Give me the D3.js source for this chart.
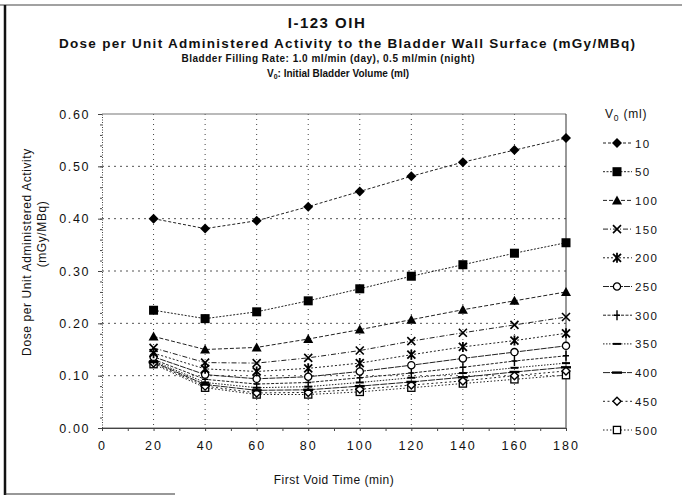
<!DOCTYPE html>
<html>
<head>
<meta charset="utf-8">
<script src="https://cdn.jsdelivr.net/npm/d3@7"></script>
<style>
  html, body { margin: 0; padding: 0; background: #fff; }
  svg { display: block; font-family: "Liberation Sans", Arial, Helvetica, sans-serif; }
</style>
</head>
<body>
<svg id="chart" width="682" height="495"></svg>
<script>
// First void time (min) on the x axis
const firstVoidTimes = [20, 40, 60, 80, 100, 120, 140, 160, 180];

// Initial bladder volumes V0 (ml), one curve each
const initialVolumes = ["10", "50", "100", "150", "200", "250", "300", "350", "400", "450", "500"];

// Dose per unit administered activity (mGy/MBq) for each V0
const doseV10  = [0.400, 0.381, 0.396, 0.423, 0.452, 0.481, 0.508, 0.531, 0.554];
const doseV50  = [0.225, 0.209, 0.222, 0.243, 0.266, 0.290, 0.312, 0.334, 0.354];
const doseV100 = [0.175, 0.150, 0.154, 0.170, 0.188, 0.207, 0.226, 0.243, 0.260];
const doseV150 = [0.153, 0.125, 0.124, 0.134, 0.148, 0.166, 0.182, 0.197, 0.212];
const doseV200 = [0.143, 0.113, 0.108, 0.114, 0.124, 0.140, 0.155, 0.167, 0.181];
const doseV250 = [0.136, 0.102, 0.094, 0.098, 0.108, 0.120, 0.133, 0.145, 0.157];
const doseV300 = [0.131, 0.093, 0.084, 0.087, 0.096, 0.105, 0.116, 0.128, 0.138];
const doseV350 = [0.128, 0.087, 0.077, 0.079, 0.087, 0.096, 0.105, 0.115, 0.124];
const doseV400 = [0.126, 0.083, 0.072, 0.073, 0.080, 0.088, 0.097, 0.107, 0.116];
const doseV450 = [0.124, 0.080, 0.067, 0.068, 0.074, 0.082, 0.090, 0.100, 0.109];
const doseV500 = [0.122, 0.077, 0.064, 0.064, 0.069, 0.077, 0.085, 0.093, 0.101];

// Axis tick values
const xTickValues = [0, 20, 40, 60, 80, 100, 120, 140, 160, 180];
const yTickValues = [0.00, 0.10, 0.20, 0.30, 0.40, 0.50, 0.60];

const doseSeries = [doseV10, doseV50, doseV100, doseV150, doseV200, doseV250,
                    doseV300, doseV350, doseV400, doseV450, doseV500];

// Marker shapes and line dash patterns, one per curve
const markerKinds = ["diamond", "square", "triangle", "times", "star", "circle",
                     "plus", "dashShort", "dashLong", "diamondOpen", "squareOpen"];
const lineDashes = ["3,2", "2,1.5", "4,2", "5,2,1,2", "2,2", "6,1",
                    "3,1.5", "1.5,1.5", "7,1", "2,2.5", "1.5,2"];

const svg = d3.select("#chart");
const plot = { left: 102, right: 566, top: 114, bottom: 428 };

const x = d3.scaleLinear().domain([0, 180]).range([plot.left, plot.right]);
const y = d3.scaleLinear().domain([0, 0.6]).range([plot.bottom, plot.top]);

// Outer frame of the figure (top, left and a stub at the bottom)
svg.append("line").attr("x1", 0).attr("x2", 682).attr("y1", 5).attr("y2", 5)
  .attr("stroke", "#444").attr("stroke-width", 1.2);
svg.append("line").attr("x1", 5).attr("x2", 5).attr("y1", 5).attr("y2", 495)
  .attr("stroke", "#111").attr("stroke-width", 2.5);
svg.append("line").attr("x1", 5).attr("x2", 175).attr("y1", 494).attr("y2", 494)
  .attr("stroke", "#333").attr("stroke-width", 1.2);

// Titles
const titles = svg.append("g").attr("fill", "#111").attr("text-anchor", "middle");
titles.append("text").attr("x", 327).attr("y", 28)
  .attr("font-size", 15).attr("font-weight", "bold").attr("letter-spacing", 1.5)
  .text("I-123 OIH");
titles.append("text").attr("x", 347).attr("y", 48)
  .attr("font-size", 13.5).attr("font-weight", "bold")
  .attr("textLength", 576).attr("lengthAdjust", "spacing")
  .text("Dose per Unit Administered Activity to the Bladder Wall Surface (mGy/MBq)");
titles.append("text").attr("x", 328).attr("y", 62)
  .attr("font-size", 10).attr("font-weight", "bold")
  .attr("textLength", 293).attr("lengthAdjust", "spacing")
  .text("Bladder Filling Rate: 1.0 ml/min (day), 0.5 ml/min (night)");
const sub = titles.append("text").attr("x", 338).attr("y", 77)
  .attr("font-size", 10).attr("font-weight", "bold");
sub.append("tspan").text("V");
sub.append("tspan").attr("font-size", 7).attr("dy", 2).text("0");
sub.append("tspan").attr("dy", -2).text(": Initial Bladder Volume (ml)");

// Grid lines
const grid = svg.append("g");
grid.selectAll(".hgrid").data(yTickValues.filter(v => v > 0 && v < 0.6)).join("line")
  .attr("x1", plot.left).attr("x2", plot.right)
  .attr("y1", d => y(d)).attr("y2", d => y(d))
  .attr("stroke", "#555").attr("stroke-width", 1).attr("stroke-dasharray", "2,4");
grid.selectAll(".vgrid").data(xTickValues.filter(v => v > 0 && v < 180)).join("line")
  .attr("x1", d => x(d)).attr("x2", d => x(d))
  .attr("y1", plot.top).attr("y2", plot.bottom)
  .attr("stroke", "#444").attr("stroke-width", 1).attr("stroke-dasharray", "1,4");

// Plot frame
svg.append("line").attr("x1", plot.left).attr("x2", plot.right)
  .attr("y1", plot.top).attr("y2", plot.top).attr("stroke", "#777").attr("stroke-width", 1.2);
svg.append("line").attr("x1", plot.right).attr("x2", plot.right)
  .attr("y1", plot.top).attr("y2", plot.bottom).attr("stroke", "#333").attr("stroke-width", 1);
svg.append("line").attr("x1", plot.left).attr("x2", plot.right)
  .attr("y1", plot.bottom).attr("y2", plot.bottom).attr("stroke", "#666").attr("stroke-width", 1);

// Axes
const yAxis = d3.axisLeft(y).tickValues(yTickValues).tickFormat(d3.format(".2f"))
  .tickSize(4).tickPadding(8);
const yAxisG = svg.append("g").attr("transform", `translate(${plot.left},0)`).call(yAxis);
const xAxis = d3.axisBottom(x).tickValues(xTickValues).tickFormat(d3.format("d"))
  .tickSize(3).tickPadding(10);
const xAxisG = svg.append("g").attr("transform", `translate(0,${plot.bottom})`).call(xAxis);

// Minor ticks
const yMinor = d3.axisLeft(y).tickValues(d3.range(0, 0.601, 0.02)).tickSize(2).tickFormat("");
svg.append("g").attr("transform", `translate(${plot.left},0)`).call(yMinor)
  .call(g => g.select(".domain").remove());
const xMinor = d3.axisBottom(x).tickValues(d3.range(10, 180, 20)).tickSize(3).tickFormat("");
svg.append("g").attr("transform", `translate(0,${plot.bottom})`).call(xMinor)
  .call(g => g.select(".domain").remove());

svg.selectAll(".domain").attr("stroke", "#444").attr("stroke-dasharray", null);
yAxisG.select(".domain").attr("stroke-dasharray", "1,1.5");
svg.selectAll(".tick line").attr("stroke", "#444");
svg.selectAll(".tick text").attr("fill", "#111")
  .attr("font-family", "'Liberation Sans', Arial, sans-serif");
yAxisG.selectAll(".tick text").attr("font-size", 12.5).attr("letter-spacing", 1.6);
xAxisG.selectAll(".tick text").attr("font-size", 12.5).attr("letter-spacing", 2);

// Axis titles
svg.append("text").attr("x", 334).attr("y", 484).attr("text-anchor", "middle")
  .attr("font-size", 12).attr("letter-spacing", 0.5).attr("fill", "#111")
  .text("First Void Time (min)");
svg.append("text").attr("transform", "translate(31,252) rotate(-90)")
  .attr("text-anchor", "middle").attr("font-size", 12).attr("letter-spacing", 0.6)
  .attr("fill", "#111").text("Dose per Unit Administered Activity");
svg.append("text").attr("transform", "translate(46,234) rotate(-90)")
  .attr("text-anchor", "middle").attr("font-size", 12).attr("letter-spacing", 0.6)
  .attr("fill", "#111").text("(mGy/MBq)");

// Marker drawing
function drawMarker(g, kind, cx, cy) {
  const s = g.append("g").attr("transform", `translate(${cx},${cy})`);
  switch (kind) {
    case "diamond":
      s.append("path").attr("d", "M0,-5L5,0L0,5L-5,0Z").attr("fill", "#000"); break;
    case "square":
      s.append("rect").attr("x", -4.5).attr("y", -4.5).attr("width", 9).attr("height", 9).attr("fill", "#000"); break;
    case "triangle":
      s.append("path").attr("d", "M0,-5L5,4L-5,4Z").attr("fill", "#000"); break;
    case "times":
      s.append("path").attr("d", "M-4,-4L4,4M-4,4L4,-4").attr("stroke", "#000").attr("stroke-width", 1.6); break;
    case "star":
      s.append("path").attr("d", "M-4,-4L4,4M-4,4L4,-4M0,-5L0,5").attr("stroke", "#000").attr("stroke-width", 1.8); break;
    case "circle":
      s.append("circle").attr("r", 3.6).attr("fill", "#fff").attr("stroke", "#000").attr("stroke-width", 1.3); break;
    case "plus":
      s.append("path").attr("d", "M0,-5L0,5M-3,0L3,0").attr("stroke", "#000").attr("stroke-width", 1.4); break;
    case "dashShort":
      s.append("path").attr("d", "M-4,0L4,0").attr("stroke", "#000").attr("stroke-width", 2); break;
    case "dashLong":
      s.append("path").attr("d", "M-5,0L5,0").attr("stroke", "#000").attr("stroke-width", 2.4); break;
    case "diamondOpen":
      s.append("path").attr("d", "M0,-4L4,0L0,4L-4,0Z").attr("fill", "#fff").attr("stroke", "#000").attr("stroke-width", 1.4); break;
    case "squareOpen":
      s.append("rect").attr("x", -3.6).attr("y", -3.6).attr("width", 7.2).attr("height", 7.2)
        .attr("fill", "#fff").attr("stroke", "#000").attr("stroke-width", 1.3); break;
  }
}

// Curves
const line = d3.line().x(d => x(d[0])).y(d => y(d[1]));
const curves = svg.append("g");
doseSeries.forEach((vals, i) => {
  const pts = firstVoidTimes.map((t, j) => [t, vals[j]]);
  curves.append("path").datum(pts).attr("d", line)
    .attr("fill", "none").attr("stroke", "#222").attr("stroke-width", 1)
    .attr("stroke-dasharray", lineDashes[i]);
});
// Markers drawn from the last curve back so the upper curves stay on top
for (let i = doseSeries.length - 1; i >= 0; i--) {
  const mg = svg.append("g");
  firstVoidTimes.forEach((t, j) => drawMarker(mg, markerKinds[i], x(t), y(doseSeries[i][j])));
}

// Legend
const legend = svg.append("g");
const lt = legend.append("text").attr("x", 605).attr("y", 118).attr("font-size", 12)
  .attr("fill", "#111").attr("letter-spacing", 0.8);
lt.append("tspan").text("V");
lt.append("tspan").attr("font-size", 8.5).attr("dy", 3).text("0");
lt.append("tspan").attr("dy", -3).text(" (ml)");
initialVolumes.forEach((v, i) => {
  const ly = 143 + i * 28.7;
  legend.append("line").attr("x1", 603).attr("x2", 632).attr("y1", ly).attr("y2", ly)
    .attr("stroke", "#222").attr("stroke-width", 1).attr("stroke-dasharray", lineDashes[i]);
  drawMarker(legend, markerKinds[i], 617, ly);
  legend.append("text").attr("x", 635).attr("y", ly + 4.5).attr("font-size", 11.5)
    .attr("letter-spacing", 1.4).attr("fill", "#111").text(v);
});
</script>
</body>
</html>
